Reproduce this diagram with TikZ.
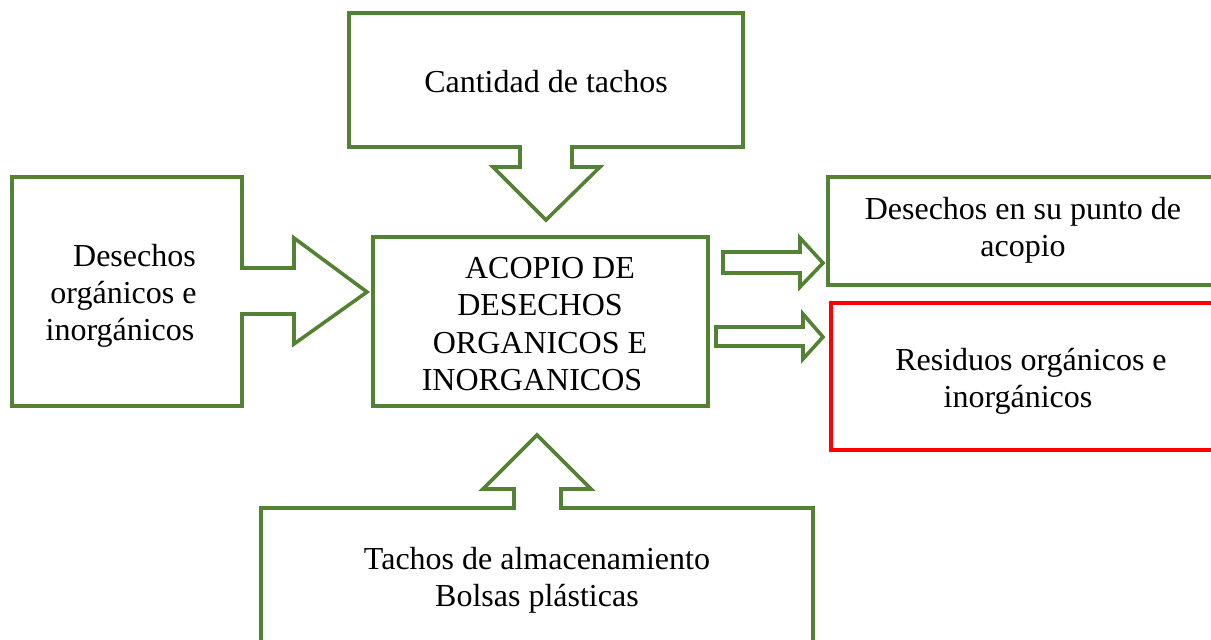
\documentclass[tikz,border=0pt]{standalone}
\usepackage{fontspec}
\setmainfont{Liberation Serif}
\definecolor{grn}{RGB}{84,130,53}
\definecolor{rd}{RGB}{255,0,0}
\begin{document}
\begin{tikzpicture}[x=0.5pt,y=-0.5pt,
  outl/.style={draw=grn,line width=1.8pt,line join=miter},
  redl/.style={draw=rd,line width=1.8pt,line join=miter},
  txt/.style={font=\fontsize{16}{18.6}\selectfont,align=center,inner sep=0pt}]
\useasboundingbox (0,0) rectangle (1211,640);
\clip (0,0) rectangle (1211,640);
% top callout
\draw[outl] (349,13) -- (743,13) -- (743,147) -- (572,147) -- (572,167) -- (600,167)
  -- (546,220) -- (493,167) -- (520,167) -- (520,147) -- (349,147) -- cycle;
\node[txt] (top) at (546,82) {Cantidad de tachos};
% left callout
\draw[outl] (12,177) -- (242,177) -- (242,268) -- (294,268) -- (294,238) -- (367,292)
  -- (294,344) -- (294,314) -- (242,314) -- (242,406) -- (12,406) -- cycle;
\node[txt] (left) at (123.5,296) {\hspace*{11pt}Desechos\\orgánicos e\\inorgánicos\hspace*{3.5pt}};
% center box
\draw[outl] (373,237) rectangle (708,406);
\node[txt] (center) at (540,324) {\hspace*{10pt}ACOPIO DE\\DESECHOS\hspace*{13pt}\\ORGANICOS E\\INORGANICOS\hspace*{8pt}};
% right arrows
\draw[outl] (723,252) -- (800,252) -- (800,238) -- (823,263) -- (800,287) -- (800,273) -- (723,273) -- cycle;
\draw[outl] (716,327) -- (803,327) -- (803,314) -- (823,337) -- (803,359) -- (803,346) -- (716,346) -- cycle;
% right boxes
\draw[outl] (828,177) rectangle (1240,285);
\node[txt] (r1) at (1023,230) {Desechos en su punto de\\acopio};
\draw[redl] (831,303) rectangle (1240,450);
\node[txt] (r2) at (1031,381) {Residuos orgánicos e\\inorgánicos\hspace*{13pt}};
% bottom callout
\draw[outl] (261,670) -- (261,508) -- (514,508) -- (514,489) -- (483,489) -- (537,435)
  -- (591,489) -- (561,489) -- (561,508) -- (813,508) -- (813,670);
\node[txt] (bottom) at (537,580) {Tachos de almacenamiento\\Bolsas plásticas};
\end{tikzpicture}
\end{document}
